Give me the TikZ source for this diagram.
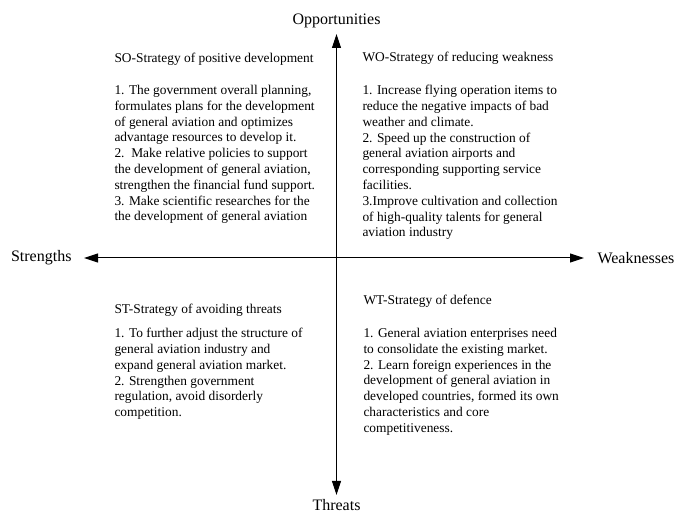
\documentclass[tikz,border=0pt]{standalone}
\usepackage{fontspec}
\setmainfont{Liberation Serif}
\usepackage{tikz}
\usetikzlibrary{arrows.meta}
\usetikzlibrary{positioning}

\begin{document}
\begin{tikzpicture}[x=1pt,y=-1pt,>={Triangle[length=14pt,width=9pt]},line width=1pt,
  axis label/.style={inner sep=0pt,font=\fontsize{16}{19}\selectfont},
  title node/.style={inner sep=0pt,anchor=base west,font=\fontsize{13.4}{15.8}\selectfont},
  text node/.style={inner sep=0pt,anchor=north west,align=left,font=\fontsize{13.4}{15.8}\selectfont}]

  \useasboundingbox (0,0) rectangle (678,518);

  \coordinate (o) at (336.5,34);
  \coordinate (t) at (336.5,495);
  \coordinate (s) at (84,258);
  \coordinate (w) at (584,258);

  \node[axis label] (opp) [above=5.5pt of o] {Opportunities};
  \node[axis label] (thr) [below=4pt of t] {Threats};
  \node[axis label] (str) [left=12pt of s] {Strengths};
  \node[axis label] (weak) [right=13pt of w] {Weaknesses};

  \draw[<->] (o) -- (t);
  \draw[<->] (s) -- (w);

  \node[title node] (so) at (114,63) {SO-Strategy of positive development};
  \node[title node] (wo) at (362,62) {WO-Strategy of reducing weakness};
  \node[title node] (st) at (114,314) {ST-Strategy of avoiding threats};
  \node[title node] (wt) at (363,305) {WT-Strategy of defence};

  \node[text node] (so list) at (114,84.8) {1. The government overall planning,\\
    formulates plans for the development\\
    of general aviation and optimizes\\
    advantage resources to develop it.\\
    2.\ \ Make relative policies to support\\
    the development of general aviation,\\
    strengthen the financial fund support.\\
    3. Make scientific researches for the\\
    the development of general aviation};
  \node[text node] (wo list) at (362,84.8) {1. Increase flying operation items to\\
    reduce the negative impacts of bad\\
    weather and climate.\\
    2. Speed up the construction of\\
    general aviation airports and\\
    corresponding supporting service\\
    facilities.\\
    3.Improve cultivation and collection\\
    of high-quality talents for general\\
    aviation industry};
  \node[text node] (st list) at (114,327.8) {1. To further adjust the structure of\\
    general aviation industry and\\
    expand general aviation market.\\
    2. Strengthen government\\
    regulation, avoid disorderly\\
    competition.};
  \node[text node] (wt list) at (363,327.8) {1. General aviation enterprises need\\
    to consolidate the existing market.\\
    2. Learn foreign experiences in the\\
    development of general aviation in\\
    developed countries, formed its own\\
    characteristics and core\\
    competitiveness.};

\end{tikzpicture}
\end{document}
